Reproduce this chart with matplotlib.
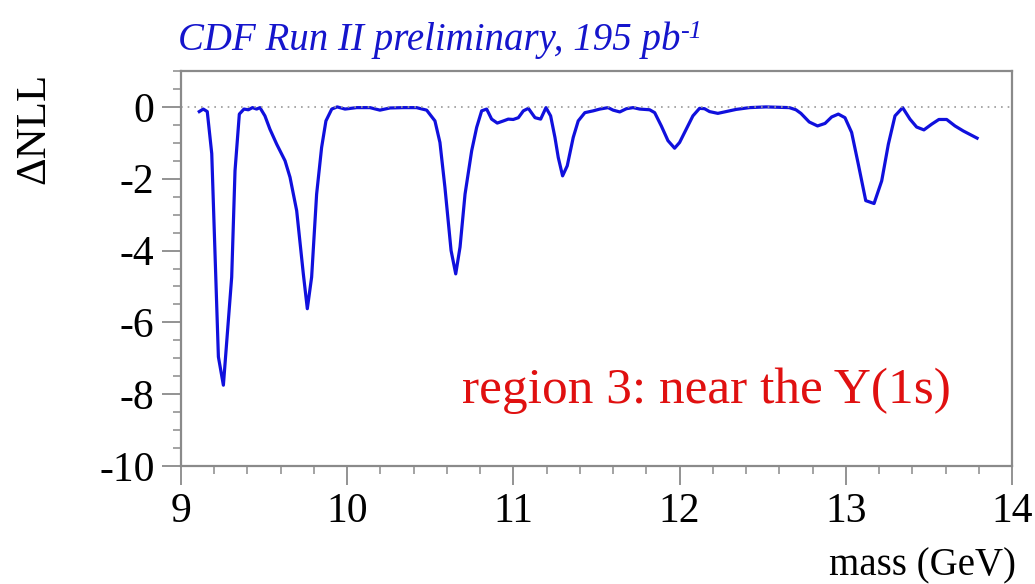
import matplotlib
matplotlib.use("Agg")
import matplotlib.pyplot as plt
from matplotlib.ticker import MultipleLocator

# scan of the likelihood difference vs. dimuon mass, region 3
mass = [9.11, 9.134, 9.158, 9.185, 9.225, 9.255, 9.305, 9.325, 9.351, 9.379,
        9.405, 9.43, 9.455, 9.475, 9.505, 9.535, 9.576, 9.626, 9.656, 9.696,
        9.736, 9.76, 9.786, 9.816, 9.846, 9.872, 9.907, 9.94, 9.987, 10.057,
        10.137, 10.197, 10.257, 10.337, 10.417, 10.478, 10.528, 10.558, 10.588, 10.625,
        10.653, 10.679, 10.709, 10.749, 10.779, 10.809, 10.839, 10.869, 10.903, 10.94,
        10.969, 10.999, 11.03, 11.06, 11.09, 11.13, 11.164, 11.196, 11.224, 11.25,
        11.27, 11.296, 11.324, 11.36, 11.39, 11.43, 11.48, 11.52, 11.57, 11.60,
        11.64, 11.68, 11.72, 11.76, 11.82, 11.85, 11.89, 11.93, 11.97, 12.0,
        12.04, 12.08, 12.12, 12.15, 12.18, 12.23, 12.28, 12.34, 12.42, 12.52,
        12.66, 12.70, 12.73, 12.78, 12.83, 12.875, 12.915, 12.955, 12.995, 13.035,
        13.075, 13.12, 13.17, 13.216, 13.256, 13.296, 13.342, 13.386, 13.426, 13.47,
        13.517, 13.56, 13.607, 13.657, 13.707, 13.79]
dnll = [-0.13, -0.06, -0.13, -1.3, -6.96, -7.75, -4.74, -1.78, -0.2, -0.06,
        -0.08, -0.02, -0.06, -0.02, -0.25, -0.62, -1.04, -1.5, -1.96, -2.89,
        -4.65, -5.62, -4.74, -2.43, -1.13, -0.39, -0.06, 0.0, -0.06, -0.02,
        -0.02, -0.09, -0.03, -0.02, -0.02, -0.09, -0.39, -0.99, -2.24, -4.0,
        -4.65, -3.9, -2.43, -1.22, -0.57, -0.11, -0.06, -0.34, -0.45, -0.39,
        -0.34, -0.35, -0.3, -0.11, -0.04, -0.3, -0.34, -0.02, -0.25, -0.85,
        -1.41, -1.92, -1.64, -0.85, -0.39, -0.16, -0.11, -0.06, -0.02, -0.09,
        -0.14, -0.05, -0.02, -0.06, -0.08, -0.16, -0.53, -0.94, -1.15, -0.99,
        -0.62, -0.25, -0.04, -0.05, -0.13, -0.18, -0.13, -0.07, -0.02, 0.0,
        -0.02, -0.08, -0.18, -0.42, -0.53, -0.46, -0.28, -0.2, -0.3, -0.71,
        -1.59, -2.61, -2.69, -2.06, -1.04, -0.25, -0.02, -0.34, -0.56, -0.64,
        -0.48, -0.35, -0.35, -0.53, -0.67, -0.87]

yticks = [0, -2, -4, -6, -8, -10]
xticks = [9, 10, 11, 12, 13, 14]

plt.rcParams['font.family'] = ['Liberation Serif', 'DejaVu Serif']

W, H = 1035, 584
fig = plt.figure(figsize=(W / 100, H / 100), dpi=100)
ax = fig.add_axes([181 / W, 1 - 466 / H, (1012 - 181) / W, (466 - 71) / H])

ax.plot(mass, dnll, color='#1010dd', lw=2.3, solid_joinstyle='round')
ax.axhline(0, color='#999999', lw=1.2, ls=(0, (1, 3)))

ax.set_xlim(9, 14)
ax.set_ylim(-10, 1)
ax.xaxis.set_minor_locator(MultipleLocator(0.2))
ax.yaxis.set_minor_locator(MultipleLocator(0.5))
ax.set_yticks(yticks)
ax.set_yticklabels([str(v) for v in yticks])
ax.set_xticks(xticks)
ax.set_xticklabels([str(v) for v in xticks])

for s in ax.spines.values():
    s.set_color('#8a8a8a')
    s.set_linewidth(1.6)
ax.tick_params(which='major', direction='out', length=14, width=1.3,
               color='#8a8a8a', labelsize=30, pad=5)
ax.tick_params(which='minor', direction='out', length=6, width=1.1,
               color='#8a8a8a')

# titles and labels
title = fig.text(178 / W, 1 - 50 / H, 'CDF Run II preliminary, 195 pb',
                 color='#1515cc', fontsize=28, style='italic',
                 ha='left', va='baseline')
ax.annotate('-1', xy=(1.0, 1.0), xycoords=title, color='#1515cc',
            fontsize=19, style='italic', ha='left', va='top')

fig.text(34 / W, 1 - 128 / H, 'ΔNLL', rotation=90, fontsize=31,
         ha='center', va='center')
fig.text(1016 / W, 1 - 575 / H, 'mass (GeV)', fontsize=28,
         ha='right', va='baseline')

ax.text(10.69, -8.25, 'region 3: near the Υ(1s)', color='#e01010',
        fontsize=37, ha='left', va='baseline')

fig.savefig('out.png', dpi=100)
